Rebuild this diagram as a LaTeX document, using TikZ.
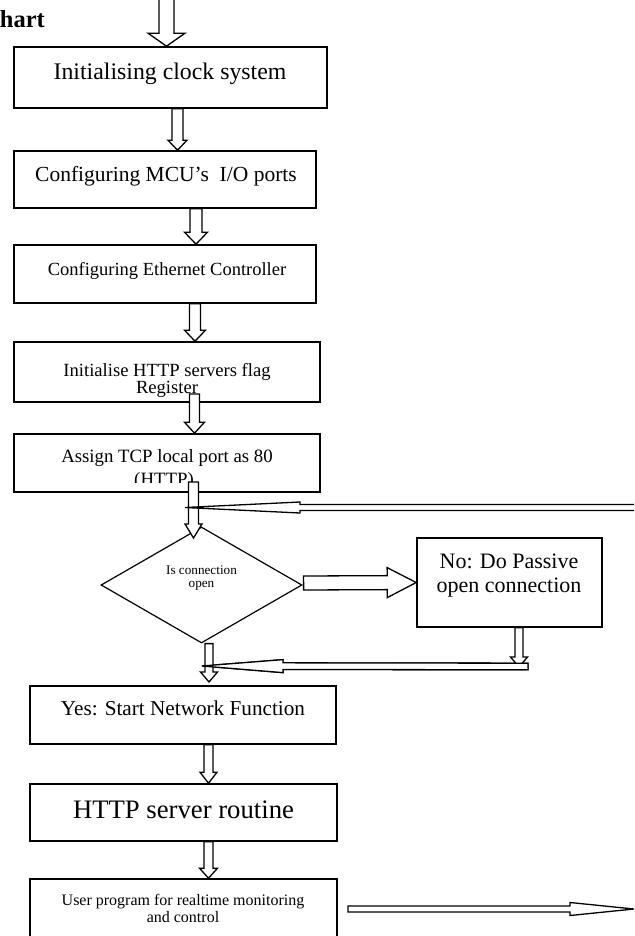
\documentclass[tikz,border=0pt]{standalone}
\usepackage{fontspec}
\setmainfont{Liberation Serif}
\usetikzlibrary{calc,shapes.geometric}
\tikzset{
  box/.style={draw, line width=1.6pt, inner sep=0pt},
  blk/.style={draw, fill=white, line width=1.3pt, line join=miter},
  lbl/.style={anchor=base, inner sep=0pt},
}
\newcommand{\blockarr}[5]{%
  \coordinate (hb) at ($(#2)!#5!(#1)$);
  \draw[blk] ($(#1)!#3!90:(#2)$) -- ($(hb)!#3!90:(#2)$) -- ($(hb)!#4!90:(#2)$) -- (#2)
    -- ($(hb)!#4!-90:(#2)$) -- ($(hb)!#3!-90:(#2)$) -- ($(#1)!#3!-90:(#2)$) -- cycle;}
\begin{document}
\begin{tikzpicture}[x=1pt,y=-1pt]
\clip (0,0) rectangle (634,936);
\fill[white] (0,0) rectangle (634,936);

% title fragment
\node[lbl, anchor=base east, font=\fontsize{24.5}{28}\selectfont\bfseries] (title) at (45,28) {hart};

% boxes
\node[box, minimum width=313pt, minimum height=61pt] (b1) at (170.5,77.5) {};
\node[box, minimum width=302pt, minimum height=57pt] (b2) at (165,179.5) {};
\node[box, minimum width=302pt, minimum height=58pt] (b3) at (165,274) {};
\node[box, minimum width=306pt, minimum height=60pt] (b4) at (167,372) {};
\node[box, minimum width=306pt, minimum height=58pt] (b5) at (167,463) {};
\node[draw, line width=1.2pt, shape=diamond, inner sep=0pt, minimum width=201pt, minimum height=116pt] (d) at (201.5,585) {};
\node[box, minimum width=185pt, minimum height=89pt] (no) at (509.5,582.5) {};
\node[box, minimum width=306pt, minimum height=58pt] (yes) at (183,715) {};
\node[box, minimum width=307pt, minimum height=57pt] (http) at (183.5,812.5) {};
\node[box, minimum width=307pt, minimum height=71pt] (user) at (183.5,914.5) {};

% texts
\node[lbl, font=\fontsize{23.8}{28}\selectfont] (t1) at (170,80) {Initialising clock system};
\node[lbl, font=\fontsize{21.5}{26}\selectfont] (t2) at (166,182) {Configuring MCU’s \ I/O ports};
\node[lbl, font=\fontsize{18.5}{22}\selectfont] (t3) at (167,275) {Configuring Ethernet Controller};
\node[lbl, font=\fontsize{18.6}{22}\selectfont] (t4a) at (167,376) {Initialise HTTP servers flag};
\node[lbl, font=\fontsize{18.6}{22}\selectfont] (t4b) at (167,393) {Register};
\node[lbl, font=\fontsize{18.8}{22}\selectfont] (t5a) at (167,462) {Assign TCP local port as 80};
\begin{scope}
  \clip (15,435) rectangle (319,482);
  \node[lbl, font=\fontsize{18.8}{22}\selectfont] (t5b) at (164,485) {(HTTP)};
\end{scope}
\node[lbl, font=\fontsize{13.2}{16}\selectfont] (dta) at (201.5,574) {Is connection};
\node[lbl, font=\fontsize{13.2}{16}\selectfont] (dtb) at (201.5,587) {open};
\node[lbl, font=\fontsize{22}{26}\selectfont] (noa) at (509,568) {No: Do Passive};
\node[lbl, font=\fontsize{22}{26}\selectfont] (nob) at (509,592) {open connection};
\node[lbl, font=\fontsize{21.2}{25}\selectfont] (yest) at (183,715) {Yes: Start Network Function};
\node[lbl, font=\fontsize{26.7}{30}\selectfont] (httpt) at (183.5,818) {HTTP server routine};
\node[lbl, font=\fontsize{16}{19}\selectfont] (usera) at (183,905) {User program for realtime monitoring};
\node[lbl, font=\fontsize{16}{19}\selectfont] (userb) at (183,922) {and control};

% arrow end points
\coordinate (a0s) at (166.5,-5);
\coordinate (a0e) at (166.5,0 |- b1.north);
\coordinate (a1s) at (177.5,0 |- b1.south);
\coordinate (a1e) at (177.5,0 |- b2.north);
\coordinate (a2s) at (196,0 |- b2.south);
\coordinate (a2e) at (196,0 |- b3.north);
\coordinate (a3s) at (195,0 |- b3.south);
\coordinate (a3e) at (195,0 |- b4.north);
\coordinate (a4s) at (194.5,394);
\coordinate (a4e) at (194.5,0 |- b5.north);
\coordinate (a5s) at (193.5,482);
\coordinate (a5e) at (193.5,538);
\coordinate (a6s) at ($(d.east)+(1,-2)$);
\coordinate (a6e) at (no.west);
\coordinate (a7s) at (519,0 |- no.south);
\coordinate (a7e) at (519,667);
\coordinate (a8s) at (528,666.5);
\coordinate (a8e) at (202,666);
\coordinate (a9s) at (209,0 |- d.south);
\coordinate (a9e) at (209,682);
\coordinate (a10s) at (645,507.5);
\coordinate (a10e) at (185,507.5);
\coordinate (a11s) at (208.5,0 |- yes.south);
\coordinate (a11e) at (208.5,0 |- http.north);
\coordinate (a12s) at (208.5,0 |- http.south);
\coordinate (a12e) at (208.5,0 |- user.north);
\coordinate (a13s) at (348,909);
\coordinate (a13e) at (634,909);

% block arrows
\blockarr{a0s}{a0e}{7.5pt}{18.5pt}{13pt}
\blockarr{a1s}{a1e}{5.5pt}{9.5pt}{10pt}
\blockarr{a2s}{a2e}{6pt}{11.5pt}{12pt}
\blockarr{a3s}{a3e}{5.5pt}{10.5pt}{11pt}
\blockarr{a4s}{a4e}{5pt}{10pt}{11pt}
\blockarr{a5s}{a5e}{5pt}{8.5pt}{14pt}
\blockarr{a10s}{a10e}{3pt}{5.5pt}{115pt}
\blockarr{a6s}{a6e}{7pt}{15pt}{29pt}
\blockarr{a8s}{a8e}{3.3pt}{6.5pt}{81pt}
\blockarr{a7s}{a7e}{4pt}{8.5pt}{10pt}
\blockarr{a9s}{a9e}{4pt}{8.5pt}{10pt}
\blockarr{a8s}{a8e}{3.3pt}{6.5pt}{81pt}
\blockarr{a11s}{a11e}{4.5pt}{8.5pt}{11pt}
\blockarr{a12s}{a12e}{4.5pt}{9pt}{10pt}
\blockarr{a13s}{a13e}{3pt}{6.5pt}{64pt}
\end{tikzpicture}
\end{document}
